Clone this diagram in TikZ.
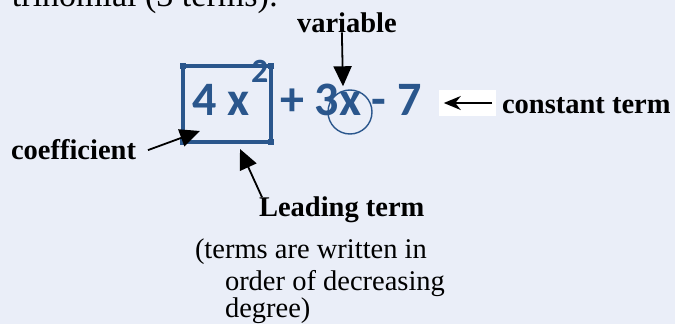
\documentclass[tikz,border=0pt]{standalone}
\usepackage{fontspec}
\setmainfont{Liberation Serif}
\newfontfamily\calfont{Carlito}
\usetikzlibrary{arrows.meta}
\definecolor{bg}{RGB}{234,238,248}
\definecolor{polyblue}{RGB}{42,86,140}
\tikzset{
  lbl/.style={inner sep=0pt, outer sep=0pt, anchor=base west, font=\bfseries\fontsize{28.5}{30}\selectfont},
  note/.style={inner sep=0pt, outer sep=0pt, anchor=base west, font=\fontsize{28.5}{30}\selectfont},
  expr/.style={inner sep=0pt, outer sep=0pt, anchor=base west, text=polyblue, font=\calfont\bfseries\fontsize{48}{50}\selectfont},
  arr/.style={line width=1.8pt, -{Triangle[length=20pt,width=18pt]}},
  smallarr/.style={line width=1.8pt, -{Stealth[length=17pt,width=14pt]}},
}
\begin{document}
\begin{tikzpicture}[x=1pt,y=-1pt]
\useasboundingbox (0,0) rectangle (675,324);
\fill[bg] (0,0) rectangle (675,324);
% top clipped text
\node[note, font=\fontsize{34}{36}\selectfont] (title) at (12,6) {trinomial (3 terms):};
% leading term box
\node[draw=polyblue, line width=3.5pt, minimum width=88pt, minimum height=76pt, inner sep=0pt, outer sep=0pt] (lead) at (227,104) {};
\foreach \c in {north west, north east, south west, south east}
  \fill[polyblue] ([shift={(-3.2,-3.2)}]lead.\c) rectangle ++(6.4,6.4);
% expression
\node[expr] (four) at (192,115) {4 x};
\node[expr, font=\calfont\bfseries\fontsize{34}{36}\selectfont] (sq) at (251,82) {2};
\node[expr] (rest) at (280,115) {+ 3x - 7};
\node[draw=polyblue, line width=1.4pt, circle, minimum size=44pt, inner sep=0pt] (xc) at (350,112) {};
% labels
\node[lbl] (var) at (297,32) {variable};
\node[lbl] (coef) at (11,159) {coefficient};
\node[lbl] (lt) at (259,216) {Leading term};
\node[lbl] (ct) at (502,113) {constant term};
\node[fill=white, minimum width=57pt, minimum height=26pt, inner sep=0pt] (wb) at (467.5,103) {};
% parenthetical
\node[note] (p1) at (195,258) {(terms are written in};
\node[note] (p2) at (225,290) {order of decreasing};
\node[note] (p3) at (225,317) {degree)};
% arrows
\draw[arr] ([xshift=-5pt]var.south) -- ([xshift=-7pt,yshift=3pt]xc.north);
\draw[arr] ([xshift=12pt,yshift=-1pt]coef.east) -- ([shift={(17,-11)}]lead.south west);
\draw[arr] ([xshift=3pt,yshift=-1pt]lt.north west) -- ([shift={(13,7)}]lead.south);
\draw[smallarr] ([xshift=-4pt]wb.east) -- ([xshift=5pt]wb.west);
\end{tikzpicture}
\end{document}
